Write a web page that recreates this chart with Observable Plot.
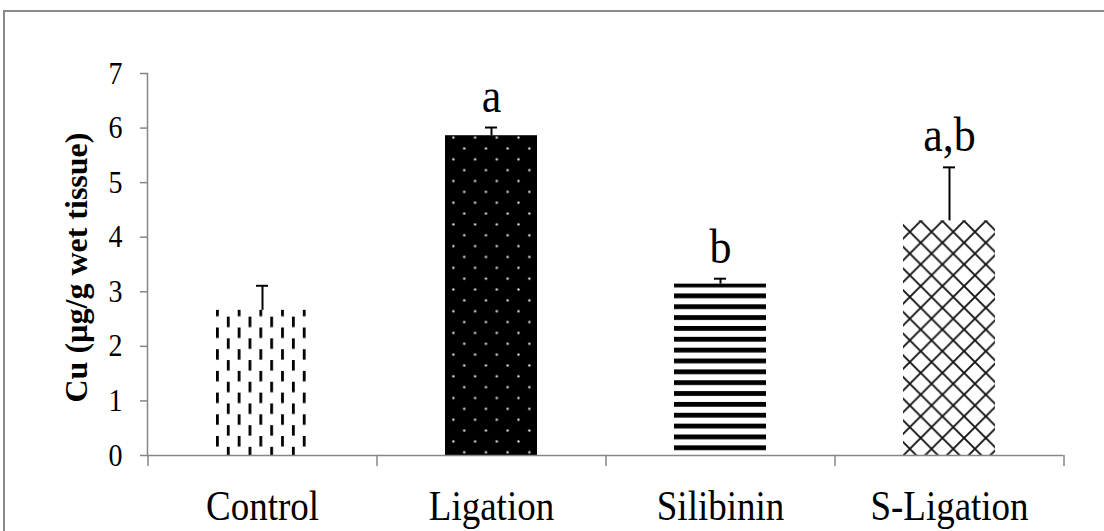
<!DOCTYPE html>
<html><head><meta charset="utf-8">
<script src="https://cdn.jsdelivr.net/npm/d3@7"></script>
<script src="https://cdn.jsdelivr.net/npm/@observablehq/plot@0.6"></script>
<style>
html,body{margin:0;padding:0;background:#fff;}
#wrap{position:relative;width:1104px;height:531px;overflow:hidden;background:#fff;}
#border{position:absolute;left:3px;top:10px;width:1200px;height:600px;border-left:2px solid #8a8a8a;border-top:2px solid #8a8a8a;}
#chart{position:absolute;left:0;top:0;}
</style></head><body>
<div id="wrap"><div id="border"></div><div id="chart"></div></div>
<script>
const categories = ["Control", "Ligation", "Silibinin", "S-Ligation"];
const means = [2.66, 5.86, 3.14, 4.30];
const upper = [3.11, 6.01, 3.24, 5.28];
const letters = ["", "a", "b", "a,b"];
const patterns = ["url(#pDash)", "url(#pDots)", "url(#pStripes)", "url(#pCross)"];
const yTicks = [0, 1, 2, 3, 4, 5, 6, 7];
const yLabel = "Cu (µg/g wet tissue)";

const data = categories.map((c, i) => ({cat: c, mean: means[i], upper: upper[i], letter: letters[i], fill: patterns[i]}));

const W = 1104, H = 531, mL = 147, mR = 41, mT = 73, mB = 76;
const step = (W - mL - mR) / categories.length;
const gray = "#868686";
const spikeDown = {draw(ctx, l) { ctx.moveTo(0, 0); ctx.lineTo(0, -l); }};

const plot = Plot.plot({
  width: W, height: H,
  marginLeft: mL, marginRight: mR, marginTop: mT, marginBottom: mB,
  style: {fontFamily: "'Liberation Serif', 'Times New Roman', serif", fontSize: "28px", color: "black", background: "transparent"},
  x: {domain: categories, paddingInner: 0.6, paddingOuter: 0.3, axis: null},
  y: {domain: [0, 7]},
  color: {type: "identity"},
  marks: [
    Plot.barY(data, {x: "cat", y: "mean", fill: "fill"}),
    Plot.frame({anchor: "left", stroke: gray, strokeWidth: 1.5}),
    Plot.ruleY([0], {stroke: gray, strokeWidth: 1.5}),
    Plot.axisY({ticks: yTicks, tickSize: 7, tickPadding: 18, stroke: gray, strokeWidth: 1.5, fill: "black", fontSize: 28, tickFormat: d => String(d), label: null}),
    Plot.vector(data, {x: "cat", y: 0, length: 10, rotate: 180, anchor: "start", shape: spikeDown, dx: -step / 2, stroke: gray, strokeWidth: 1.5}),
    Plot.vector(data.slice(-1), {x: "cat", y: 0, length: 10, rotate: 180, anchor: "start", shape: spikeDown, dx: step / 2, stroke: gray, strokeWidth: 1.5}),
    Plot.ruleX(data, {x: "cat", y1: "mean", y2: "upper", stroke: "black", strokeWidth: 2}),
    Plot.tickY(data, {x: "cat", y: "upper", stroke: "black", strokeWidth: 2, insetLeft: 40, insetRight: 40}),
    Plot.text(data, {x: "cat", y: "upper", text: "letter", dy: -16, lineAnchor: "bottom", fontSize: 44, fill: "black"}),
    Plot.text(data, {x: "cat", text: "cat", frameAnchor: "bottom", dy: 64, lineAnchor: "bottom", fontSize: 37, fill: "black"}),
    Plot.text([yLabel], {text: d => d, frameAnchor: "left", dx: -71, dy: 3, rotate: -90, textAnchor: "middle", lineAnchor: "middle", fontSize: 32, fontWeight: "bold", fill: "black"})
  ]
});

const xs = plot.scale("x");
const defs = d3.select(plot).insert("defs", ":first-child");
const tile = 21.7;

// Control: staggered vertical dashes
const pd = defs.append("pattern").attr("id", "pDash").attr("patternUnits", "userSpaceOnUse")
  .attr("width", tile).attr("height", tile).attr("x", xs.apply("Control")).attr("y", 2);
pd.append("rect").attr("width", tile).attr("height", tile).attr("fill", "white");
pd.append("rect").attr("x", 0).attr("y", 0).attr("width", 2.8).attr("height", 10.5).attr("fill", "black");
pd.append("rect").attr("x", tile / 2).attr("y", tile / 2).attr("width", 2.8).attr("height", 10.5).attr("fill", "black");

// Ligation: black with white dots
const pt = defs.append("pattern").attr("id", "pDots").attr("patternUnits", "userSpaceOnUse")
  .attr("width", tile).attr("height", tile).attr("x", xs.apply("Ligation") + 3).attr("y", 2);
pt.append("rect").attr("width", tile).attr("height", tile).attr("fill", "black");
pt.append("circle").attr("cx", 5.4).attr("cy", 5.4).attr("r", 1.2).attr("fill", "#d8d8d8");
pt.append("circle").attr("cx", 5.4 + tile / 2).attr("cy", 5.4 + tile / 2).attr("r", 1.2).attr("fill", "#d8d8d8");

// Silibinin: horizontal stripes
const ps = defs.append("pattern").attr("id", "pStripes").attr("patternUnits", "userSpaceOnUse")
  .attr("width", 20).attr("height", tile / 2).attr("y", 0.5);
ps.append("rect").attr("width", 20).attr("height", tile / 2).attr("fill", "white");
ps.append("rect").attr("y", 0).attr("width", 20).attr("height", 4.8).attr("fill", "black");

// S-Ligation: diagonal crosshatch
const pc = defs.append("pattern").attr("id", "pCross").attr("patternUnits", "userSpaceOnUse")
  .attr("width", tile).attr("height", tile).attr("x", xs.apply("S-Ligation") - 4).attr("y", 4);
pc.append("rect").attr("width", tile).attr("height", tile).attr("fill", "white");
pc.append("path").attr("d", `M0,0L${tile},${tile}M${tile},0L0,${tile}`).attr("stroke", "#111").attr("stroke-width", 1.9).attr("fill", "none");

// Slight vertical stretch of horizontal texts, as in the reference
const SY = 1.12;
d3.select(plot).selectAll("text").each(function() {
  if (this.textContent === yLabel) return;
  const t = this.getAttribute("transform");
  if (t) {
    this.setAttribute("transform", `${t} scale(1,${SY})`);
  } else {
    const x = +(this.getAttribute("x") || 0), y = +(this.getAttribute("y") || 0);
    this.setAttribute("transform", `translate(${x},${y}) scale(1,${SY}) translate(${-x},${-y})`);
  }
});

document.getElementById("chart").appendChild(plot);
</script>
</body></html>
